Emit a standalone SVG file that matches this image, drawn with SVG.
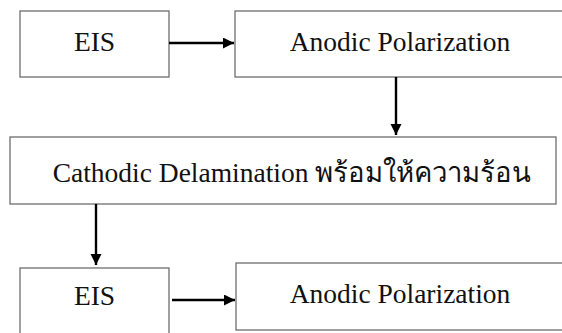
<svg xmlns="http://www.w3.org/2000/svg" width="562" height="333" viewBox="0 0 562 333">
<defs>
<marker id="ah" markerWidth="12" markerHeight="12" refX="11" refY="5.5" orient="auto" markerUnits="userSpaceOnUse">
<path d="M0,0 L11,5.5 L0,11 Z" fill="#000"/>
</marker>
<style>
.box{fill:#fff;stroke:#6e6e6e;stroke-width:1.3}
.t{font-family:'Liberation Serif',serif;font-size:27.5px;fill:#111;text-anchor:middle}
.c{stroke:#000;stroke-width:2.4;fill:none;marker-end:url(#ah)}
</style>
</defs>
<rect width="562" height="333" fill="#fff"/>
<g id="eis1"><rect class="box" x="20" y="11" width="149" height="66"/><text class="t" x="94.5" y="51">EIS</text></g>
<g id="anodic1"><rect class="box" x="235" y="11" width="340" height="66"/><text class="t" x="400" y="51">Anodic Polarization</text></g>
<g id="cathodic"><rect class="box" x="10" y="137" width="546" height="67"/><text class="t" x="292" y="182">Cathodic Delamination พร้อมให้ความร้อน</text></g>
<g id="eis2"><rect class="box" x="20" y="268" width="149" height="80"/><text class="t" x="94.5" y="305">EIS</text></g>
<g id="anodic2"><rect class="box" x="236" y="263" width="340" height="67"/><text class="t" x="400" y="303">Anodic Polarization</text></g>
<g id="connectors">
<line class="c" x1="169" y1="43" x2="234" y2="43"/>
<line class="c" x1="396" y1="77" x2="396" y2="135"/>
<line class="c" x1="96" y1="204" x2="96" y2="265"/>
<line class="c" x1="172" y1="300" x2="235" y2="300"/>
</g>
</svg>
